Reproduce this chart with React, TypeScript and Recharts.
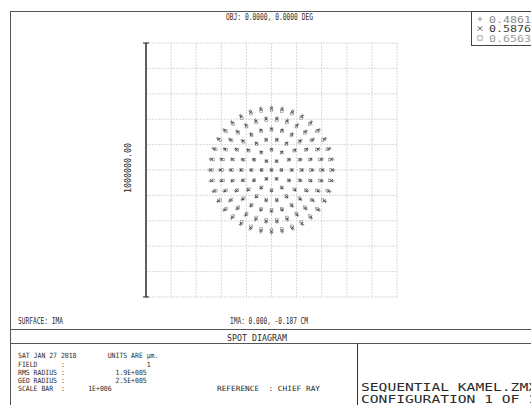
import React from "react";
import { ScatterChart, Scatter, XAxis, YAxis, CartesianGrid, ReferenceLine } from "recharts";

// ray intercepts on the image surface, relative to chief ray, in units of 1000 µm
const spot4861: [number, number][] = [
  [0, 0],
  [41, 0], [21, 36], [-21, 36], [-41, 0], [-21, -36], [21, -36],
  [83, 0], [72, 42], [42, 72], [0, 83], [-42, 72], [-72, 42], [-83, 0], [-72, -42], [-42, -72], [0, -83], [42, -72], [72, -42],
  [124, 0], [117, 42], [95, 80], [62, 107], [22, 122], [-22, 122], [-62, 107], [-95, 80], [-117, 42], [-124, 0],
  [-117, -42], [-95, -80], [-62, -107], [-22, -122], [22, -122], [62, -107], [95, -80], [117, -42],
  [165, 0], [159, 43], [143, 83], [117, 117], [83, 143], [43, 159], [0, 165], [-43, 159], [-83, 143], [-117, 117], [-143, 83], [-159, 43],
  [-165, 0], [-159, -43], [-143, -83], [-117, -117], [-83, -143], [-43, -159], [0, -165], [43, -159], [83, -143], [117, -117], [143, -83], [159, -43],
  [207, 0], [202, 43], [189, 84], [167, 122], [138, 154], [104, 179], [64, 197], [22, 206], [-22, 206], [-64, 197], [-104, 179], [-138, 154], [-167, 122], [-189, 84], [-202, 43],
  [-207, 0], [-202, -43], [-189, -84], [-167, -122], [-138, -154], [-104, -179], [-64, -197], [-22, -206], [22, -206], [64, -197], [104, -179], [138, -154], [167, -122], [189, -84], [202, -43],
  [248, 0], [244, 43], [233, 85], [215, 124], [190, 159], [159, 190], [124, 215], [85, 233], [43, 244], [0, 248],
  [-43, 244], [-85, 233], [-124, 215], [-159, 190], [-190, 159], [-215, 124], [-233, 85], [-244, 43], [-248, 0],
  [-244, -43], [-233, -85], [-215, -124], [-190, -159], [-159, -190], [-124, -215], [-85, -233], [-43, -244], [0, -248],
  [43, -244], [85, -233], [124, -215], [159, -190], [190, -159], [215, -124], [233, -85], [244, -43],
];

const spot5876: [number, number][] = [
  [0, 0],
  [40, 0], [20, 35], [-20, 35], [-40, 0], [-20, -35], [20, -35],
  [81, 0], [70, 41], [41, 70], [0, 81], [-41, 70], [-70, 41], [-81, 0], [-70, -41], [-41, -70], [0, -81], [41, -70], [70, -41],
  [121, 0], [114, 41], [93, 78], [60, 105], [21, 119], [-21, 119], [-60, 105], [-93, 78], [-114, 41], [-121, 0],
  [-114, -41], [-93, -78], [-60, -105], [-21, -119], [21, -119], [60, -105], [93, -78], [114, -41],
  [161, 0], [156, 42], [139, 81], [114, 114], [81, 139], [42, 156], [0, 161], [-42, 156], [-81, 139], [-114, 114], [-139, 81], [-156, 42],
  [-161, 0], [-156, -42], [-139, -81], [-114, -114], [-81, -139], [-42, -156], [0, -161], [42, -156], [81, -139], [114, -114], [139, -81], [156, -42],
  [202, 0], [198, 42], [185, 82], [163, 119], [135, 150], [101, 175], [62, 192], [21, 201], [-21, 201], [-62, 192], [-101, 175], [-135, 150], [-163, 119], [-185, 82], [-198, 42],
  [-202, 0], [-198, -42], [-185, -82], [-163, -119], [-135, -150], [-101, -175], [-62, -192], [-21, -201], [21, -201], [62, -192], [101, -175], [135, -150], [163, -119], [185, -82], [198, -42],
  [242, 0], [238, 42], [227, 83], [210, 121], [185, 156], [156, 185], [121, 210], [83, 227], [42, 238], [0, 242],
  [-42, 238], [-83, 227], [-121, 210], [-156, 185], [-185, 156], [-210, 121], [-227, 83], [-238, 42], [-242, 0],
  [-238, -42], [-227, -83], [-210, -121], [-185, -156], [-156, -185], [-121, -210], [-83, -227], [-42, -238], [0, -242],
  [42, -238], [83, -227], [121, -210], [156, -185], [185, -156], [210, -121], [227, -83], [238, -42],
];

const spot6563: [number, number][] = [
  [0, 0],
  [39, 0], [20, 34], [-20, 34], [-39, 0], [-20, -34], [20, -34],
  [79, 0], [68, 40], [40, 68], [0, 79], [-40, 68], [-68, 40], [-79, 0], [-68, -40], [-40, -68], [0, -79], [40, -68], [68, -40],
  [118, 0], [111, 40], [90, 76], [59, 102], [21, 116], [-21, 116], [-59, 102], [-90, 76], [-111, 40], [-118, 0],
  [-111, -40], [-90, -76], [-59, -102], [-21, -116], [21, -116], [59, -102], [90, -76], [111, -40],
  [157, 0], [152, 41], [136, 79], [111, 111], [79, 136], [41, 152], [0, 157], [-41, 152], [-79, 136], [-111, 111], [-136, 79], [-152, 41],
  [-157, 0], [-152, -41], [-136, -79], [-111, -111], [-79, -136], [-41, -152], [0, -157], [41, -152], [79, -136], [111, -111], [136, -79], [152, -41],
  [197, 0], [193, 41], [180, 80], [159, 116], [132, 146], [99, 171], [61, 187], [21, 196], [-21, 196], [-61, 187], [-99, 171], [-132, 146], [-159, 116], [-180, 80], [-193, 41],
  [-197, 0], [-193, -41], [-180, -80], [-159, -116], [-132, -146], [-99, -171], [-61, -187], [-21, -196], [21, -196], [61, -187], [99, -171], [132, -146], [159, -116], [180, -80], [193, -41],
  [236, 0], [232, 41], [222, 81], [204, 118], [181, 152], [152, 181], [118, 204], [81, 222], [41, 232], [0, 236],
  [-41, 232], [-81, 222], [-118, 204], [-152, 181], [-181, 152], [-204, 118], [-222, 81], [-232, 41], [-236, 0],
  [-232, -41], [-222, -81], [-204, -118], [-181, -152], [-152, -181], [-118, -204], [-81, -222], [-41, -232], [0, -236],
  [41, -232], [81, -222], [118, -204], [152, -181], [181, -152], [204, -118], [222, -81], [232, -41],
];

const wavelengths = ["0.4861", "0.5876", "0.6563"];
const gridTicks = [-500, -400, -300, -200, -100, 0, 100, 200, 300, 400, 500];
const scaleBarLabel = "1000000.00";

const FONT = "'DejaVu Sans Mono', monospace";
const INK = "#2a2a2a";
const waveColors = ["#8a8a8a", "#3a3a3a", "#9a9a9a"];

const toRows = (pts: [number, number][]) => pts.map(([x, y]) => ({ x, y }));

// zemax style symbols: plus, cross, square
const PlusMark = (props: any) => {
  const { cx, cy } = props;
  const s = 1.7;
  return (
    <path d={`M${cx - s},${cy}H${cx + s}M${cx},${cy - s}V${cy + s}`} stroke={waveColors[0]} strokeWidth={0.8} fill="none" />
  );
};
const CrossMark = (props: any) => {
  const { cx, cy } = props;
  const s = 1.4;
  return (
    <path
      d={`M${cx - s},${cy - s}L${cx + s},${cy + s}M${cx - s},${cy + s}L${cx + s},${cy - s}`}
      stroke={waveColors[1]}
      strokeWidth={0.8}
      fill="none"
    />
  );
};
const SquareMark = (props: any) => {
  const { cx, cy } = props;
  const s = 1.3;
  return <rect x={cx - s} y={cy - s} width={2 * s} height={2 * s} stroke={waveColors[2]} strokeWidth={0.7} fill="none" />;
};

const T = ({ x, y, w, size = 8, fill = INK, children }: any) => (
  <text
    x={x}
    y={y}
    fontSize={size}
    fontFamily={FONT}
    fill={fill}
    textLength={w}
    lengthAdjust="spacingAndGlyphs"
    xmlSpace="preserve"
    style={{ whiteSpace: "pre" }}
  >
    {children}
  </text>
);

export default function App() {
  return (
    <div style={{ position: "absolute", left: 0, top: 0, width: 531, height: 405, background: "#fff", overflow: "hidden" }}>
      <svg width={531} height={405} style={{ position: "absolute", left: 0, top: 0 }}>
        {/* outer frame */}
        <line x1={10.5} y1={11} x2={10.5} y2={405} stroke="#555" strokeWidth={1} />
        <line x1={10} y1={11.5} x2={531} y2={11.5} stroke="#555" strokeWidth={1} />
        <T x={226} y={20} w={87} size={8}>OBJ: 0.0000, 0.0000 DEG</T>

        {/* legend */}
        <rect x={471.5} y={11.5} width={80} height={34} fill="#fff" stroke="#444" strokeWidth={1} />
        <path d="M477.5,19H482.5M480,16.5V21.5" stroke={waveColors[0]} strokeWidth={0.8} />
        <path d="M477.8,26.3L482.2,30.7M477.8,30.7L482.2,26.3" stroke={waveColors[1]} strokeWidth={0.9} />
        <rect x={477.8} y={35.8} width={4.4} height={4.4} fill="none" stroke={waveColors[2]} strokeWidth={0.8} />
        <T x={489} y={22.5} w={42} size={9} fill={waveColors[0]}>{wavelengths[0]}</T>
        <T x={489} y={32} w={42} size={9} fill={waveColors[1]}>{wavelengths[1]}</T>
        <T x={489} y={41.5} w={42} size={9} fill={waveColors[2]}>{wavelengths[2]}</T>

        {/* scale bar label */}
        <text
          transform="translate(131,168) rotate(-90)"
          textAnchor="middle"
          fontSize={8}
          fontFamily={FONT}
          fill={INK}
          textLength={50}
          lengthAdjust="spacingAndGlyphs"
        >
          {scaleBarLabel}
        </text>

        <T x={18} y={324} w={45}>SURFACE: IMA</T>
        <T x={230} y={324} w={78}>IMA: 0.000, -0.187 CM</T>
        <line x1={10} y1={329.5} x2={531} y2={329.5} stroke="#555" />
        <T x={227} y={340.5} w={60} size={9.5}>SPOT DIAGRAM</T>
        <line x1={10} y1={343.5} x2={531} y2={343.5} stroke="#555" />
        <line x1={357.5} y1={343.5} x2={357.5} y2={405} stroke="#333" />

        <T x={18} y={358} w={140.4} size={7.2}>{"SAT JAN 27 2018        UNITS ARE µm."}</T>
        <T x={18} y={366.5} w={132.6} size={7.2}>{"FIELD      :                     1"}</T>
        <T x={18} y={374.7} w={128.7} size={7.2}>{"RMS RADIUS :             1.9E+005"}</T>
        <T x={18} y={382.9} w={128.7} size={7.2}>{"GEO RADIUS :             2.5E+005"}</T>
        <T x={18} y={391.1} w={93.6} size={7.2}>{"SCALE BAR  :      1E+006"}</T>
        <T x={217} y={391.1} w={103} size={7.2}>{"REFERENCE  : CHIEF RAY"}</T>

        <T x={361} y={391} w={176} size={10}>SEQUENTIAL KAMEL.ZMX</T>
        <T x={361} y={403} w={176} size={10}>CONFIGURATION 1 OF 1</T>
      </svg>

      <div style={{ position: "absolute", left: 142, top: 39 }}>
        <ScatterChart width={257} height={262} margin={{ top: 4, right: 2, bottom: 4, left: 4 }}>
          <CartesianGrid stroke="#cfcfcf" strokeWidth={0.8} strokeDasharray="2 1" />
          <XAxis type="number" dataKey="x" domain={[-500, 500]} ticks={gridTicks} interval={0} hide height={0} />
          <YAxis type="number" dataKey="y" domain={[-500, 500]} ticks={gridTicks} interval={0} hide width={0} />
          <ReferenceLine x={-500} stroke="#222" strokeWidth={1.4} />
          <ReferenceLine segment={[{ x: -512, y: 500 }, { x: -488, y: 500 }]} stroke="#222" strokeWidth={1} ifOverflow="visible" />
          <ReferenceLine segment={[{ x: -512, y: -500 }, { x: -488, y: -500 }]} stroke="#222" strokeWidth={1} ifOverflow="visible" />
          <Scatter name={wavelengths[2]} data={toRows(spot6563)} shape={<SquareMark />} isAnimationActive={false} />
          <Scatter name={wavelengths[0]} data={toRows(spot4861)} shape={<PlusMark />} isAnimationActive={false} />
          <Scatter name={wavelengths[1]} data={toRows(spot5876)} shape={<CrossMark />} isAnimationActive={false} />
        </ScatterChart>
      </div>
    </div>
  );
}
